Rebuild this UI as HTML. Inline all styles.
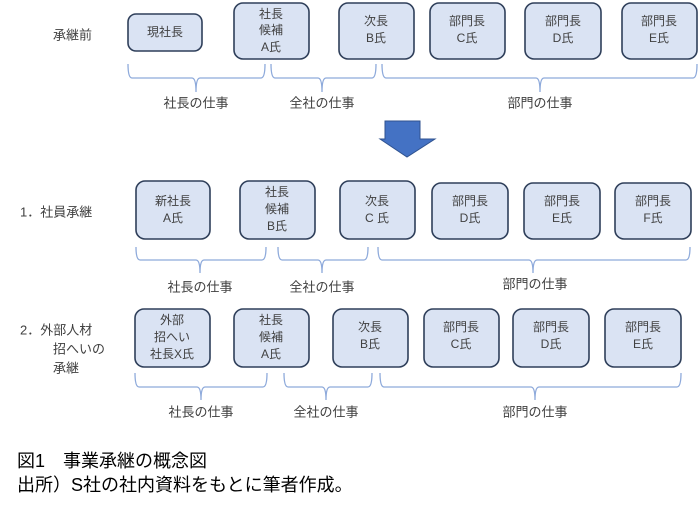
<!DOCTYPE html>
<html><head><meta charset="utf-8"><style>
html,body{margin:0;padding:0;background:#fff;}
svg{display:block;font-family:"Liberation Sans","Noto Sans CJK JP",sans-serif;}
.b{fill:#dae3f3;stroke:#2f3f5a;stroke-width:1.6;}
.br{fill:none;stroke:#8eaadb;stroke-width:1.3;}
.t{font-size:12px;fill:#404040;text-anchor:middle;dominant-baseline:middle;}
.l{font-size:13px;fill:#404040;text-anchor:middle;dominant-baseline:middle;}
.s{font-size:13px;fill:#404040;dominant-baseline:middle;}
.c{font-size:18px;fill:#000;}
</style></head><body>
<svg width="700" height="512" viewBox="0 0 700 512">
<!-- Row 1 -->
<text class="s" x="53" y="36">承継前</text>
<rect class="b" x="128" y="14" width="74" height="37" rx="8"/><text class="t" x="165" y="33">現社長</text>
<rect class="b" x="234" y="3" width="75" height="56" rx="9"/><text class="t" x="271" y="15">社長</text><text class="t" x="271" y="31">候補</text><text class="t" x="271" y="48">A氏</text>
<rect class="b" x="339" y="3" width="75" height="56" rx="9"/><text class="t" x="376" y="22">次長</text><text class="t" x="376" y="39">B氏</text>
<rect class="b" x="430" y="3" width="75" height="56" rx="9"/><text class="t" x="467" y="22">部門長</text><text class="t" x="467" y="39">C氏</text>
<rect class="b" x="525" y="3" width="76" height="56" rx="9"/><text class="t" x="563" y="22">部門長</text><text class="t" x="563" y="39">D氏</text>
<rect class="b" x="622" y="3" width="75" height="56" rx="9"/><text class="t" x="659" y="22">部門長</text><text class="t" x="659" y="39">E氏</text>
<path class="br" d="M128 64 Q128 78 132 78 L192 78 Q196 78 196 92 Q196 78 200 78 L261 78 Q265 78 265 64"/>
<path class="br" d="M271 64 Q271 78 275 78 L318 78 Q322 78 322 92 Q322 78 326 78 L372 78 Q376 78 376 64"/>
<path class="br" d="M382 64 Q382 78 386 78 L536 78 Q540 78 540 92 Q540 78 544 78 L693 78 Q697 78 697 64"/>
<text class="l" x="196" y="104">社長の仕事</text><text class="l" x="322" y="104">全社の仕事</text><text class="l" x="540" y="104">部門の仕事</text>
<!-- Arrow -->
<path d="M385 121 L420 121 L420 139 L435 139 L407 157 L380 139 L385 139 Z" fill="#4472c4" stroke="#2f528f" stroke-width="1"/>
<!-- Row 2 -->
<text class="s" x="20" y="213">1．社員承継</text>
<rect class="b" x="136" y="181" width="74" height="58" rx="9"/><text class="t" x="173" y="202">新社長</text><text class="t" x="173" y="219">A氏</text>
<rect class="b" x="240" y="181" width="75" height="58" rx="9"/><text class="t" x="277" y="193">社長</text><text class="t" x="277" y="210">候補</text><text class="t" x="277" y="227">B氏</text>
<rect class="b" x="340" y="181" width="75" height="58" rx="9"/><text class="t" x="377" y="202">次長</text><text class="t" x="377" y="219">C 氏</text>
<rect class="b" x="432" y="183" width="76" height="56" rx="9"/><text class="t" x="470" y="202">部門長</text><text class="t" x="470" y="219">D氏</text>
<rect class="b" x="524" y="183" width="76" height="56" rx="9"/><text class="t" x="562" y="202">部門長</text><text class="t" x="562" y="219">E氏</text>
<rect class="b" x="615" y="183" width="76" height="56" rx="9"/><text class="t" x="653" y="202">部門長</text><text class="t" x="653" y="219">F氏</text>
<path class="br" d="M136 247 Q136 260 140 260 L196 260 Q200 260 200 273 Q200 260 204 260 L262 260 Q266 260 266 247"/>
<path class="br" d="M278 247 Q278 260 282 260 L318 260 Q322 260 322 273 Q322 260 326 260 L364 260 Q368 260 368 247"/>
<path class="br" d="M378 247 Q378 260 382 260 L529 260 Q533 260 533 273 Q533 260 537 260 L686 260 Q690 260 690 247"/>
<text class="l" x="200" y="288">社長の仕事</text><text class="l" x="322" y="288">全社の仕事</text><text class="l" x="535" y="285">部門の仕事</text>
<!-- Row 3 -->
<text class="s" x="20" y="331">2．外部人材</text>
<text class="s" x="53" y="350">招へいの</text>
<text class="s" x="53" y="369">承継</text>
<rect class="b" x="135" y="309" width="75" height="58" rx="9"/><text class="t" x="172" y="321">外部</text><text class="t" x="172" y="338">招へい</text><text class="t" x="172" y="355">社長X氏</text>
<rect class="b" x="234" y="309" width="75" height="58" rx="9"/><text class="t" x="271" y="321">社長</text><text class="t" x="271" y="338">候補</text><text class="t" x="271" y="355">A氏</text>
<rect class="b" x="333" y="309" width="75" height="58" rx="9"/><text class="t" x="370" y="328">次長</text><text class="t" x="370" y="345">B氏</text>
<rect class="b" x="424" y="309" width="75" height="58" rx="9"/><text class="t" x="461" y="328">部門長</text><text class="t" x="461" y="345">C氏</text>
<rect class="b" x="513" y="309" width="76" height="58" rx="9"/><text class="t" x="551" y="328">部門長</text><text class="t" x="551" y="345">D氏</text>
<rect class="b" x="605" y="309" width="76" height="58" rx="9"/><text class="t" x="643" y="328">部門長</text><text class="t" x="643" y="345">E氏</text>
<path class="br" d="M135 373 Q135 387 139 387 L197 387 Q201 387 201 400 Q201 387 205 387 L263 387 Q267 387 267 373"/>
<path class="br" d="M284 373 Q284 387 288 387 L322 387 Q326 387 326 400 Q326 387 330 387 L368 387 Q372 387 372 373"/>
<path class="br" d="M380 373 Q380 387 384 387 L531 387 Q535 387 535 400 Q535 387 539 387 L677 387 Q681 387 681 373"/>
<text class="l" x="201" y="413">社長の仕事</text><text class="l" x="326" y="413">全社の仕事</text><text class="l" x="535" y="413">部門の仕事</text>
<!-- Caption -->
<text class="c" x="17" y="467">図1　事業承継の概念図</text>
<text class="c" x="17" y="491">出所）S社の社内資料をもとに筆者作成。</text>
</svg>
</body></html>
